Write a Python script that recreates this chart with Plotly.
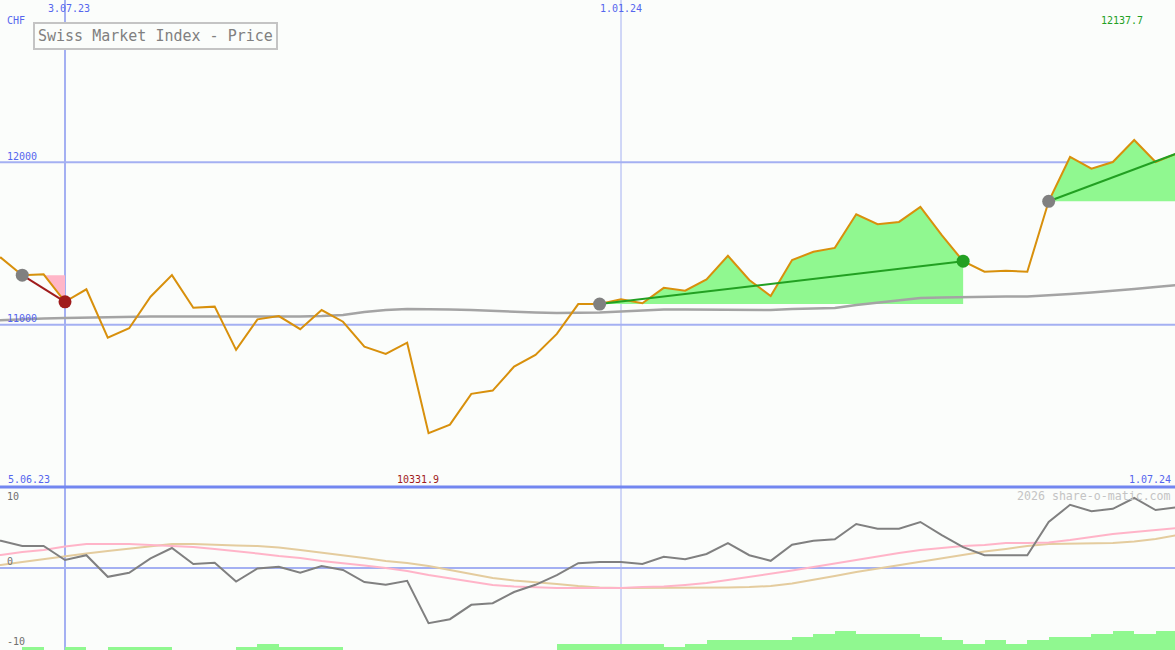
import numpy as np
import pandas as pd
import plotly.graph_objects as go

# ---------------- data ----------------
dates = pd.date_range("2023-06-05", periods=57, freq="7D")

price = [11385, 11413, 11305, 11310, 11141, 11218, 10920, 10978, 11172, 11305,
         11104, 11111, 10845, 11033, 11053, 10972, 11090, 11018, 10865, 10820,
         10889, 10331.9, 10384, 10574, 10594, 10742, 10814, 10943, 11127, 11127,
         11156, 11132, 11227, 11209, 11279, 11424, 11275, 11176, 11398, 11449,
         11473, 11680, 11619, 11633, 11725, 11551, 11391, 11326, 11332, 11326,
         11760, 12033, 11961, 12002, 12137.7, 12002, 12055]

ma = [11023, 11029, 11035, 11038, 11041, 11044, 11047, 11050, 11050, 11050,
      11050, 11050, 11047, 11050, 11050, 11050, 11053, 11060, 11078, 11090,
      11096, 11096, 11093, 11090, 11084, 11078, 11075, 11072, 11072, 11075,
      11081, 11087, 11093, 11093, 11093, 11093, 11093, 11090, 11096, 11100,
      11103, 11121, 11136, 11152, 11164, 11167, 11170, 11170, 11173, 11173,
      11179, 11189, 11198, 11207, 11219, 11232, 11244]

momentum = [3.6, 3.4, 2.75, 2.75, 1.0, 1.6, -1.1, -0.6, 1.2, 2.5,
            0.5, 0.65, -1.7, -0.05, 0.15, -0.6, 0.25, -0.25, -1.75, -2.1,
            -1.6, -6.9, -6.4, -4.6, -4.4, -3.0, -2.1, -0.9, 0.6, 0.75,
            0.75, 0.5, 1.4, 1.1, 1.75, 3.1, 1.6, 0.9, 2.9, 3.4,
            3.6, 5.5, 4.9, 4.9, 5.75, 4.1, 2.6, 1.6, 1.6, 1.6,
            5.75, 7.9, 7.1, 7.4, 8.75, 7.25, 7.6]

signal_fast = [1.5, 1.62, 2.0, 2.25, 2.69, 3.0, 3.0, 3.0, 2.88, 2.75,
               2.62, 2.38, 2.12, 1.81, 1.5, 1.25, 0.88, 0.62, 0.31, 0.0,
               -0.38, -0.88, -1.31, -1.75, -2.12, -2.31, -2.44, -2.5, -2.5, -2.5,
               -2.5, -2.38, -2.31, -2.12, -1.88, -1.5, -1.12, -0.75, -0.31, 0.12,
               0.56, 1.0, 1.5, 1.88, 2.25, 2.5, 2.75, 2.88, 3.12, 3.12,
               3.19, 3.5, 3.88, 4.25, 4.5, 4.75, 5.0]

signal_slow = [0.12, 0.38, 0.75, 1.12, 1.5, 1.81, 2.12, 2.44, 2.75, 3.0,
               3.0, 2.88, 2.81, 2.75, 2.56, 2.25, 1.94, 1.62, 1.25, 0.88,
               0.62, 0.25, -0.25, -0.75, -1.25, -1.56, -1.75, -2.0, -2.25, -2.44,
               -2.5, -2.5, -2.5, -2.5, -2.5, -2.44, -2.38, -2.25, -1.94, -1.5,
               -1.0, -0.5, -0.06, 0.38, 0.81, 1.25, 1.69, 2.06, 2.38, 2.75,
               3.0, 3.06, 3.06, 3.12, 3.31, 3.62, 4.12]

volume = [0, 0, 1, 0, 1, 0, 1, 1, 1, 0,
          0, 0, 1, 2, 1, 1, 1, 0, 0, 0,
          0, 0, 0, 0, 0, 0, 0, 2, 2, 2,
          2, 2, 1, 2, 3, 3, 3, 3, 4, 5,
          6, 5, 5, 5, 4, 3, 2, 3, 2, 3,
          4, 4, 5, 6, 5, 6, 6]

# trend segments (start index, end index)
trends = [(2, 4, "#a01c1c"), (29, 46, "#22a022"), (50, 56, "#22a022")]

# ---------------- styles ----------------
BG = "#fbfdfb"
BLUE = "#5566ee"
GRID = "#a4b0f2"
FONT = "DejaVu Sans Mono"
W, H = 1175, 650

fig = go.Figure()

tnum = np.asarray((dates - dates[0]) / pd.Timedelta(days=1), dtype=float)


def to_date(d):
    return dates[0] + pd.Timedelta(days=float(d))


def region_polys(i0, i1):
    base = price[i0]
    pts = []
    for i in range(i0, i1):
        x0, y0, x1, y1 = tnum[i], price[i], tnum[i + 1], price[i + 1]
        pts.append((x0, y0))
        if (y0 - base) * (y1 - base) < 0:
            xc = x0 + (base - y0) * (x1 - x0) / (y1 - y0)
            pts.append((xc, base))
    pts.append((tnum[i1], price[i1]))
    xs = [pts[0][0]] + [p[0] for p in pts] + [pts[-1][0], pts[0][0]]
    up = [base] + [max(p[1], base) for p in pts] + [base, base]
    dn = [base] + [min(p[1], base) for p in pts] + [base, base]
    xd = [to_date(x) for x in xs]
    return xd, up, dn


for i0, i1, _c in trends:
    xd, up, dn = region_polys(i0, i1)
    fig.add_trace(go.Scatter(x=xd, y=up, fill="toself", fillcolor="#90f890",
                             mode="lines", line=dict(width=0), hoverinfo="skip"))
    fig.add_trace(go.Scatter(x=xd, y=dn, fill="toself", fillcolor="#ffb6c8",
                             mode="lines", line=dict(width=0), hoverinfo="skip"))

# moving average
fig.add_trace(go.Scatter(x=dates, y=ma, mode="lines",
                         line=dict(color="#a4a4a4", width=2.5, shape="linear")))
# price
fig.add_trace(go.Scatter(x=dates, y=price, mode="lines",
                         line=dict(color="#d8900c", width=2)))

# trend lines
for i0, i1, c in trends:
    fig.add_trace(go.Scatter(x=[dates[i0], dates[i1]], y=[price[i0], price[i1]],
                             mode="lines", line=dict(color=c, width=2)))

# markers
mk_idx = [2, 29, 50, 4, 46]
mk_col = ["#808080", "#808080", "#808080", "#a01c1c", "#22a022"]
fig.add_trace(go.Scatter(x=[dates[i] for i in mk_idx], y=[price[i] for i in mk_idx],
                         mode="markers",
                         marker=dict(size=13, color=mk_col, line=dict(width=0))))

# lower panel
fig.add_trace(go.Scatter(x=dates, y=signal_slow, mode="lines", yaxis="y2",
                         line=dict(color="#e4cc9e", width=2)))
fig.add_trace(go.Scatter(x=dates, y=signal_fast, mode="lines", yaxis="y2",
                         line=dict(color="#ffb4c8", width=2)))
fig.add_trace(go.Scatter(x=dates, y=momentum, mode="lines", yaxis="y2",
                         line=dict(color="#808080", width=2)))
fig.add_trace(go.Bar(x=dates + pd.Timedelta(days=3.5), y=volume, yaxis="y3",
                     width=7 * 24 * 3600 * 1000, marker=dict(color="#90f890", line=dict(width=0))))

top_dom = 163 / H
fig.update_layout(
    width=W, height=H, margin=dict(l=0, r=0, t=0, b=0),
    paper_bgcolor=BG, plot_bgcolor=BG, showlegend=False, bargap=0,
    hovermode=False,
    xaxis=dict(type="date", range=["2023-06-11 17:17", "2024-06-30 08:24"],
               visible=False, showgrid=False, zeroline=False),
    yaxis=dict(domain=[top_dom, 1], range=[10000, 13000], visible=False,
               showgrid=False, zeroline=False),
    yaxis2=dict(domain=[0, 162 / H], range=[-10.25, 10], visible=False,
                showgrid=False, zeroline=False),
    yaxis3=dict(overlaying="y2", range=[0, 51], visible=False,
                showgrid=False, zeroline=False),
)

shapes = []
for lvl in [12000, 11000]:
    shapes.append(dict(type="line", xref="paper", yref="y", x0=0, x1=1, y0=lvl, y1=lvl,
                       line=dict(color=GRID, width=2), layer="below"))
shapes.append(dict(type="line", xref="paper", yref="y2", x0=0, x1=1, y0=0, y1=0,
                   line=dict(color=GRID, width=2), layer="below"))
shapes.append(dict(type="line", xref="x", yref="paper", x0="2023-07-03", x1="2023-07-03",
                   y0=0, y1=1, line=dict(color=GRID, width=2), layer="below"))
shapes.append(dict(type="line", xref="x", yref="paper", x0="2024-01-01", x1="2024-01-01",
                   y0=0, y1=1, line=dict(color=GRID, width=1), layer="below"))
shapes.append(dict(type="line", xref="paper", yref="paper", x0=0, x1=1,
                   y0=top_dom, y1=top_dom, line=dict(color="#7286f0", width=3), layer="above"))
fig.update_layout(shapes=shapes)


def ann(text, px, py, color, size=10, xanchor="left", **kw):
    fig.add_annotation(text=text, x=px / W, y=1 - py / H, xref="paper", yref="paper",
                       xanchor=xanchor, yanchor="middle", showarrow=False,
                       font=dict(family=FONT, size=size, color=color), **kw)


ann("CHF", 5, 21, BLUE)
ann("3.07.23", 68.5, 9, BLUE, xanchor="center")
ann("1.01.24", 621, 9, BLUE, xanchor="center")
ann("12000", 5, 156.5, BLUE)
ann("11000", 5, 318.5, BLUE)
ann("12137.7", 1144.5, 21, "#22a022", xanchor="right")
ann("5.06.23", 6, 479, BLUE)
ann("10331.9", 441, 479, "#a01c1c", xanchor="right")
ann("1.07.24", 1172.5, 479, BLUE, xanchor="right")
ann("10", 5, 496, "#707070")
ann("0", 5, 561.5, "#707070")
ann("-10", 5, 641, "#707070")
ann("2026 share-o-matic.com", 1172.5, 496, "#c4c4c4", size=11.6, xanchor="right")
ann("Swiss Market Index - Price", 155.3, 36.2, "#808080", size=15, xanchor="center",
    bordercolor="#c4c4c4", borderwidth=2, borderpad=3, bgcolor=BG)

fig.write_html("out.html", config={"displayModeBar": False, "staticPlot": True},
               post_script="document.body.style.margin='0';document.body.style.overflow='hidden';")
